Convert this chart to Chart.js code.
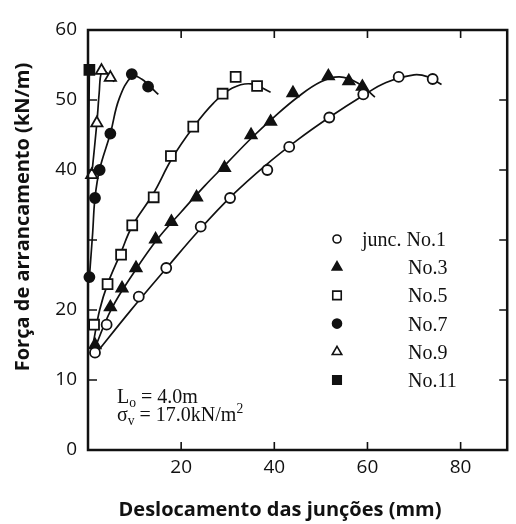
<!DOCTYPE html>
<html>
<head>
<meta charset="utf-8">
<script src="https://cdn.jsdelivr.net/npm/chart.js@4.4.1/dist/chart.umd.min.js"></script>
<style>
  html, body { margin: 0; padding: 0; background: #fff; }
</style>
</head>
<body>
<canvas id="pulloutChart" width="516" height="524"></canvas>
<script>
// measured points (x = displacement mm, y = pullout force kN/m)
var mark1 = [[1.5, 13.9], [4, 17.9], [10.9, 21.9], [16.8, 26], [24.2, 31.9], [30.5, 36], [38.5, 40], [43.2, 43.3], [51.8, 47.5], [59.1, 50.8], [66.7, 53.3], [74, 53]];
var mark3 = [[1.5, 15], [4.8, 20.4], [7.3, 23.1], [10.3, 26], [14.5, 30.1], [17.9, 32.6], [23.3, 36.1], [29.3, 40.3], [35, 45], [39.2, 46.9], [44, 51], [51.6, 53.4], [56, 52.7], [58.9, 51.9]];
var mark5 = [[1.3, 17.9], [4.2, 23.7], [7.1, 27.9], [9.5, 32.1], [14.1, 36.1], [17.8, 42], [22.6, 46.2], [28.9, 50.9], [31.7, 53.3], [36.3, 52]];
var mark7 = [[0.3, 24.7], [1.5, 36], [2.5, 40], [4.8, 45.2], [9.4, 53.7], [12.9, 51.9]];
var mark9 = [[0.8, 39.3], [1.9, 46.7], [2.9, 54.2], [4.8, 53.2]];
var mark11 = [[0.3, 54.3]];

// fitted curves
var curve1 = [[1.5, 13.6], [9, 19.8], [17, 26.1], [24, 31.5], [31, 36.4], [38, 40.6], [45, 44.3], [52, 47.6], [59, 50.6], [64, 52.5], [70, 53.6], [73, 53.3], [75.9, 52.2]];
var curve3 = [[1.5, 14.6], [5, 20.1], [10, 25.5], [15, 30.2], [20, 34], [25, 37.7], [30, 41.1], [35, 44.5], [40, 47.6], [45, 50.4], [50, 52.6], [54, 53.3], [58, 52.4], [61.6, 50.4]];
var curve5 = [[1.2, 15.5], [2.5, 20], [4.2, 23.7], [7, 28.1], [9.5, 32], [14, 36.6], [18, 41.6], [22.6, 46.1], [27, 49.6], [31, 51.7], [35, 52.3], [39.2, 51.1]];
var curve7 = [[0.3, 24.7], [1, 31], [1.5, 36], [2.5, 40.1], [4.8, 45.2], [6.7, 50.2], [9.5, 53.4], [11.5, 53], [13.2, 52], [15.1, 50.8]];
var curve9 = [[0.8, 39.3], [1.9, 46.7], [2.4, 51], [2.9, 54], [3.8, 54], [4.8, 53.3], [5.6, 52.6]];
var curve11 = [[0, 14], [0.1, 35], [0.2, 48], [0.3, 54.3]];

var seriesNames = ["junc. No.1", "No.3", "No.5", "No.7", "No.9", "No.11"];
var xTickLabels = [20, 40, 60, 80];
var xTickMarks = [20, 40, 60, 80];
var yTickLabels = [0, 10, 20, 40, 50, 60];
var yTickMarks = [10, 20, 30, 40, 50];

var marks = [mark1, mark3, mark5, mark7, mark9, mark11];
var curves = [curve1, curve3, curve5, curve7, curve9, curve11];

var looks = [
  { style: "circle", filled: false, r: 5, lr: 4 },
  { style: "triangle", filled: true, r: 6.5, lr: 5.5 },
  { style: "rect", filled: false, r: 7, lr: 6 },
  { style: "circle", filled: true, r: 5, lr: 4.5 },
  { style: "triangle", filled: false, r: 6.5, lr: 5.5 },
  { style: "rect", filled: true, r: 7, lr: 6 }
];

function toPoints(list) {
  return list.map(function (p) { return { x: p[0], y: p[1] }; });
}

var datasets = [];
curves.forEach(function (c, i) {
  datasets.push({
    label: seriesNames[i] + " curve",
    data: toPoints(c),
    showLine: true,
    tension: 0.4,
    borderColor: "#111",
    borderWidth: 1.7,
    pointRadius: 0,
    fill: false,
    clip: false,
    order: 2
  });
});
marks.forEach(function (m, i) {
  var lk = looks[i];
  datasets.push({
    label: seriesNames[i],
    data: toPoints(m),
    showLine: false,
    pointStyle: lk.style,
    pointRadius: lk.r,
    pointBorderWidth: 1.8,
    pointBorderColor: "#111",
    pointBackgroundColor: lk.filled ? "#111" : "#fff",
    clip: false,
    order: 1
  });
});

function drawMarker(ctx, lk, x, y, r) {
  ctx.beginPath();
  if (lk.style === "circle") {
    ctx.arc(x, y, r, 0, Math.PI * 2);
  } else if (lk.style === "triangle") {
    ctx.moveTo(x, y - r);
    ctx.lineTo(x + r * 0.866, y + r * 0.5);
    ctx.lineTo(x - r * 0.866, y + r * 0.5);
    ctx.closePath();
  } else {
    var s = r / Math.SQRT2;
    ctx.rect(x - s, y - s, 2 * s, 2 * s);
  }
  ctx.fillStyle = lk.filled ? "#111" : "#fff";
  ctx.fill();
  ctx.lineWidth = 1.6;
  ctx.strokeStyle = "#111";
  ctx.stroke();
}

// text pieces with sub/superscripts
function drawRich(ctx, parts, x, y, size) {
  parts.forEach(function (p) {
    var fs = p.sub || p.sup ? size * 0.68 : size;
    var dy = p.sub ? size * 0.2 : (p.sup ? -size * 0.38 : 0);
    ctx.font = fs + "px 'Liberation Serif'";
    ctx.fillText(p.t, x, y + dy);
    x += ctx.measureText(p.t).width;
  });
}

var decor = {
  id: "decor",
  afterDatasetsDraw: function (chart) {
    var ctx = chart.ctx;
    var a = chart.chartArea;
    var xs = chart.scales.x;
    var ys = chart.scales.y;
    ctx.save();

    // frame
    ctx.strokeStyle = "#111";
    ctx.lineWidth = 2.5;
    ctx.strokeRect(a.left, a.top, a.right - a.left, a.bottom - a.top);

    // inward ticks on all four sides
    ctx.lineWidth = 1.6;
    ctx.beginPath();
    xTickMarks.forEach(function (v) {
      var px = xs.getPixelForValue(v);
      ctx.moveTo(px, a.bottom); ctx.lineTo(px, a.bottom - 8);
      ctx.moveTo(px, a.top); ctx.lineTo(px, a.top + 8);
    });
    yTickMarks.forEach(function (v) {
      var py = ys.getPixelForValue(v);
      ctx.moveTo(a.left, py); ctx.lineTo(a.left + 9, py);
      ctx.moveTo(a.right, py); ctx.lineTo(a.right - 8, py);
    });
    ctx.stroke();

    // axis titles
    ctx.fillStyle = "#111";
    ctx.font = "bold 20px 'Open Sans'";
    ctx.textAlign = "center";
    ctx.textBaseline = "middle";
    ctx.fillText("Deslocamento das junções (mm)", 280, 510);
    ctx.save();
    ctx.translate(23, 217);
    ctx.rotate(-Math.PI / 2);
    ctx.fillText("Força de arrancamento (kN/m)", 0, 0);
    ctx.restore();

    // legend
    ctx.textAlign = "left";
    ctx.textBaseline = "alphabetic";
    seriesNames.forEach(function (name, i) {
      var y = 239 + i * 28.2;
      drawMarker(ctx, looks[i], 337, y, looks[i].lr);
      ctx.fillStyle = "#111";
      ctx.font = "20px 'Liberation Serif'";
      ctx.fillText(name, i === 0 ? 362 : 408, y + 7);
    });

    // test conditions
    ctx.fillStyle = "#111";
    drawRich(ctx, [{ t: "L" }, { t: "o", sub: true }, { t: " = 4.0m" }], 117, 403, 20);
    drawRich(ctx, [{ t: "σ" }, { t: "v", sub: true }, { t: " = 17.0kN/m" }, { t: "2", sup: true }], 117, 421, 20);

    ctx.restore();
  }
};

new Chart(document.getElementById("pulloutChart"), {
  type: "scatter",
  data: { datasets: datasets },
  options: {
    responsive: false,
    animation: false,
    layout: { padding: { left: 0, top: 30, right: 2, bottom: 0 } },
    plugins: {
      legend: { display: false },
      tooltip: { enabled: false }
    },
    scales: {
      x: {
        type: "linear",
        min: 0,
        max: 90,
        afterFit: function (scale) { scale.height = 74; },
        afterBuildTicks: function (scale) {
          scale.ticks = xTickLabels.map(function (v) { return { value: v }; });
        },
        grid: { display: false, drawTicks: false },
        border: { display: false },
        ticks: {
          color: "#111",
          padding: 6,
          maxRotation: 0,
          font: { family: "'Open Sans'", size: 19 }
        }
      },
      y: {
        type: "linear",
        min: 0,
        max: 60,
        afterFit: function (scale) { scale.width = 88; },
        afterBuildTicks: function (scale) {
          scale.ticks = yTickLabels.map(function (v) { return { value: v }; });
        },
        grid: { display: false, drawTicks: false },
        border: { display: false },
        ticks: {
          color: "#111",
          padding: 11,
          font: { family: "'Open Sans'", size: 19 }
        }
      }
    }
  },
  plugins: [decor]
});
</script>
</body>
</html>
